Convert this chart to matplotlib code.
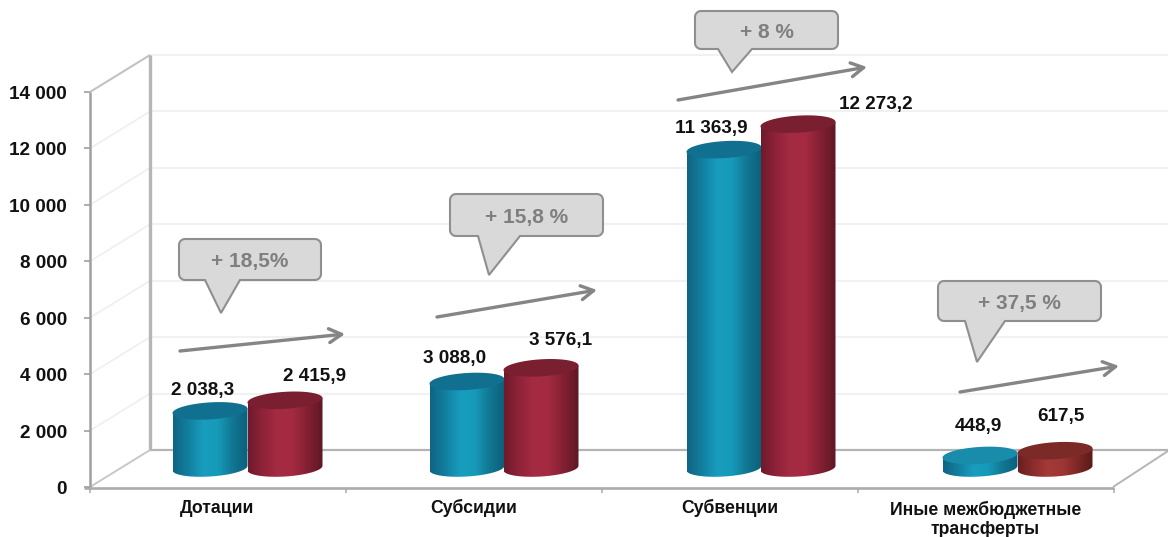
import numpy as np
import matplotlib
matplotlib.use("Agg")
import matplotlib.pyplot as plt
from matplotlib.colors import LinearSegmentedColormap
from matplotlib.patches import Polygon

categories = ["Дотации", "Субсидии", "Субвенции", "Иные межбюджетные\nтрансферты"]
values_prev = [2038.3, 3088.0, 11363.9, 448.9]
values_curr = [2415.9, 3576.1, 12273.2, 617.5]
labels_prev = ["2 038,3", "3 088,0", "11 363,9", "448,9"]
labels_curr = ["2 415,9", "3 576,1", "12 273,2", "617,5"]
growth = ["+ 18,5%", "+ 15,8 %", "+ 8 %", "+ 37,5 %"]
y_ticks = [0, 2000, 4000, 6000, 8000, 10000, 12000, 14000]
y_tick_labels = ["0", "2 000", "4 000", "6 000", "8 000", "10 000", "12 000", "14 000"]

W, H = 1168, 537
X0, CAT_W = 90, 256          # left end of the axis, width of a category
Y0, Y14 = 487, 92            # pixel rows of 0 and 14 000
UNITS = 14000 / (Y0 - Y14)   # value units per pixel
DX, DY = 60, 37              # depth of the 3d box

plt.rcParams["font.family"] = ["Liberation Sans", "DejaVu Sans"]
fig = plt.figure(figsize=(W / 100, H / 100), dpi=100)
ax = fig.add_axes([0, 0, 1, 1])
ax.axis("off")


def xy(px, py):
    # pixel position -> data position
    return (np.asarray(px) - X0) / CAT_W, (Y0 - np.asarray(py)) * UNITS


def line(x1, y1, x2, y2, color, lw, z=1):
    xs, ys = xy([x1, x2], [y1, y2])
    ax.plot(xs, ys, color=color, lw=lw, zorder=z, solid_capstyle="butt")


def py_of(v):
    return Y0 - v / UNITS


# walls and grid
for v in y_ticks[1:-1]:
    p = py_of(v)
    line(X0, p, X0 + DX, p - DY, "#efefef", 1.2)
    line(X0 + DX, p - DY, W, p - DY, "#f1f1f1", 1.5)
line(X0 + DX, py_of(14000) - DY, W, py_of(14000) - DY, "#f1f1f1", 1.5)
line(X0, Y14, X0 + DX, Y14 - DY, "#c2c2c2", 1.5)
line(X0 + DX, Y0 - DY, X0 + DX, Y14 - DY, "#b6b6b6", 2.4, 2)
line(X0 + DX, Y0 - DY, W, Y0 - DY, "#b4b4b4", 1.6, 2)
line(X0, Y0, X0 + DX, Y0 - DY, "#c8c8c8", 1.4, 2)
line(X0 + 4 * CAT_W - 1, Y0, W, Y0 - DY + 1, "#b5b5b5", 1.4, 2)
line(X0, Y0, X0, Y14, "#a0a0a0", 1.8, 3)
line(X0 - 6, Y0 + 1, X0 + 4 * CAT_W, Y0 + 1, "#ababab", 1.9, 3)
for v, lab in zip(y_ticks, y_tick_labels):
    p = py_of(v)
    line(X0 - 6, p, X0, p, "#a0a0a0", 1.2, 3)
    tx, ty = xy(67, p + 2.5)
    ax.text(tx, ty, lab, ha="right", va="center", fontsize=13.6, fontweight="bold", color="#111111")
for i in range(5):
    px = X0 + i * CAT_W
    line(px, Y0 + 1, px, Y0 + 6, "#ababab", 1.1, 3)


def cylinder(cx, value, ramp, top_color, z):
    a, b, tilt, base = 37.5, 8.5, 0.06, Y0 - 19
    # bars stand a little behind the axis, so their scale is slightly smaller
    top = base - 0.993 * value / UNITS
    t = np.linspace(0, np.pi, 60)
    # lower edge of the base, then the upper rim
    low_x = cx + a * np.cos(t)
    low_y = base + b * np.sin(t) - tilt * a * np.cos(t)
    up_x = cx - a * np.cos(t)
    up_y = top + tilt * a * np.cos(t)
    body = np.column_stack(xy(np.r_[low_x, up_x], np.r_[low_y, up_y]))
    patch = Polygon(body, closed=True, fc="none", ec="none", zorder=z)
    ax.add_patch(patch)
    cmap = LinearSegmentedColormap.from_list("cyl", ramp)
    grad = np.linspace(0, 1, 128).reshape(1, -1)
    x1, _ = xy(cx - a, 0)
    x2, _ = xy(cx + a, 0)
    _, y1 = xy(0, base + b + 4)
    _, y2 = xy(0, top - b - 4)
    im = ax.imshow(grad, cmap=cmap, extent=[x1, x2, y1, y2], aspect="auto", zorder=z)
    im.set_clip_path(patch)
    # top face
    t = np.linspace(0, 2 * np.pi, 120)
    ex = cx + a * np.cos(t)
    ey = top + b * np.sin(t) - tilt * a * np.cos(t)
    ax.add_patch(Polygon(np.column_stack(xy(ex, ey)), closed=True, fc=top_color, ec="none", zorder=z + 0.5))


BLUE = ["#0f6483", "#127f9f", "#189dbe", "#169ab9", "#117793", "#0d5f7a"]
RED = ["#6e1a2b", "#8f2339", "#a52b43", "#a32a41", "#822033", "#5f1725"]
BROWN = ["#6a1f20", "#8a2c2c", "#a53a38", "#9e3634", "#7c2826", "#5a1a1a"]
blue_tops = ["#11708f", "#11708f", "#11708f", "#1a8cab"]
red_tops = ["#7a1f2f", "#7a1f2f", "#7a1f2f", "#7c2a28"]
red_ramps = [RED, RED, RED, BROWN]

blue_cx = [210, 467, 724, 980]
red_cx = [285, 541, 798, 1055]
for i in range(4):
    cylinder(blue_cx[i], values_prev[i], BLUE, blue_tops[i], 5)
    cylinder(red_cx[i], values_curr[i], red_ramps[i], red_tops[i], 6)

# value labels
prev_pos = [(203, 390), (455, 359), (711, 129), (978, 426)]
curr_pos = [(315, 376), (561, 340), (876, 105), (1061, 417)]
for lab, pos in zip(labels_prev + labels_curr, prev_pos + curr_pos):
    tx, ty = xy(*pos)
    ax.text(tx, ty, lab, ha="center", va="center", fontsize=13.6, fontweight="bold", color="#111111", zorder=8)

# category labels, one text per line so the baselines stay put
baselines = [[513], [513], [513], [515, 534]]
for i, cat in enumerate(categories):
    for row, base_y in zip(cat.split("\n"), baselines[i]):
        tx, ty = xy(X0 + (i + 0.5) * CAT_W - 0.5, base_y)
        ax.text(tx, ty, row, ha="center", va="baseline", fontsize=12.7, fontweight="bold", color="#111111")

# growth arrows
arrows = [(180, 351, 345, 334), (437, 317, 597, 290), (678, 100, 867, 67), (960, 392, 1119, 366)]
for x1, y1, x2, y2 in arrows:
    ax.annotate("", xy=xy(x2, y2), xytext=xy(x1, y1), zorder=9,
                arrowprops=dict(arrowstyle="->,head_length=0.9,head_width=0.5", color="#858585", lw=2.4,
                                shrinkA=0, shrinkB=0))

# callouts: box left, top, right, bottom, notch start, notch end, tip
callouts = [(179, 239, 321, 280, 205, 240, 221, 313),
            (450, 194, 603, 236, 478, 520, 489, 275),
            (695, 11, 838, 49, 718, 752, 732, 72),
            (938, 281, 1101, 321, 965, 1005, 977, 362)]
EDGE, FILL = "#8f8f8f", "#d9d9d9"
for (l, t, r, b, n1, n2, tipx, tipy), txt in zip(callouts, growth):
    r_px = 6
    corners = []
    for cx, cy, a0 in [(r - r_px, t + r_px, -90), (r - r_px, b - r_px, 0), (l + r_px, b - r_px, 90), (l + r_px, t + r_px, 180)]:
        ang = np.radians(np.linspace(a0, a0 + 90, 8))
        corners.append(np.column_stack([cx + r_px * np.cos(ang), cy + r_px * np.sin(ang)]))
    notch = np.array([[n2, b], [tipx, tipy], [n1, b]])
    outline = np.vstack([corners[0], corners[1], notch, corners[2], corners[3]])
    ax.add_patch(Polygon(np.column_stack(xy(outline[:, 0], outline[:, 1])), closed=True,
                         fc=FILL, ec=EDGE, lw=1.5, zorder=10))
    tx, ty = xy((l + r) / 2, (t + b) / 2 + 2)
    ax.text(tx, ty, txt, ha="center", va="center", fontsize=15, fontweight="bold", color="#7f7f7f", zorder=11)

ax.set_xlim((0 - X0) / CAT_W, (W - X0) / CAT_W)
ax.set_ylim((Y0 - H) * UNITS, Y0 * UNITS)

fig.savefig("out.png", dpi=100, facecolor="white")
